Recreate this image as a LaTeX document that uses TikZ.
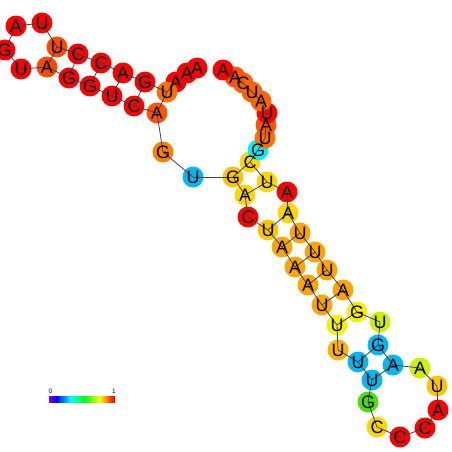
\documentclass[tikz,border=0pt]{standalone}
\usepackage{fontspec}
\setmainfont{Liberation Sans}
\definecolor{cR}{HTML}{FF0000}
\definecolor{cOfour}{HTML}{FF4800}
\definecolor{cOfive}{HTML}{FF5500}
\definecolor{cOsix}{HTML}{FF6400}
\definecolor{cOseven}{HTML}{FF7000}
\definecolor{cOeight}{HTML}{FF8000}
\definecolor{cOr}{HTML}{FFA500}
\definecolor{cOb}{HTML}{FFB400}
\definecolor{cYO}{HTML}{FFC400}
\definecolor{cY}{HTML}{FFD700}
\definecolor{cYe}{HTML}{F4F000}
\definecolor{cYG}{HTML}{CCF000}
\definecolor{cGr}{HTML}{50E000}
\definecolor{cSky}{HTML}{00B8F4}
\definecolor{cCy}{HTML}{00F0FF}
\tikzset{
  base/.style={circle,minimum size=21pt,inner sep=0pt,draw=none},
  bb/.style={draw=black!75,line width=0.8pt},
  lab/.style={inner sep=0pt,font=\fontsize{18}{18}\selectfont,text=black},
  tick/.style={inner sep=0pt,font=\fontsize{6.5}{6.5}\selectfont,text=black}
}
\begin{document}
\begin{tikzpicture}[x=1pt,y=-1pt]
\useasboundingbox (0,0) rectangle (452,452);
\foreach \i/\x/\y/\c in {
1/197/68/cR, 2/187/73/cR, 3/176/82/cR, 4/167/92/cOseven, 5/145/82/cR,
6/123/73/cR, 7/101/63/cR, 8/78/54/cR, 9/57/47/cOfour, 10/42/23/cR,
11/16/26/cR, 12/5/50/cR, 13/21/69/cR, 14/47/67/cOfour, 15/69/78/cR,
16/90/86/cR, 17/112/96/cR, 18/134/106/cR, 19/157/113/cOfive, 20/163/152/cOeight,
21/193/177/cSky, 22/233/177/cYO, 23/245/195/cY, 24/248/217/cR, 25/268/230/cYO,
26/282/247/cOr, 27/295/267/cOr, 28/308/285/cOr, 29/322/305/cOr, 30/337/325/cYe,
31/338/350/cOb, 32/358/362/cSky, 33/372/380/cSky, 34/368/402/cGr, 35/377/427/cY,
36/400/437/cR, 37/425/428/cR, 38/438/410/cR, 39/437/386/cYO, 40/420/368/cYG,
41/393/365/cSky, 42/378/345/cSky, 43/380/322/cYG, 44/357/312/cYe, 45/343/290/cOr,
46/327/270/cOr, 47/315/252/cOr, 48/300/233/cOr, 49/288/213/cY, 50/287/192/cR,
51/267/182/cY, 52/250/162/cY, 53/258/150/cCy, 54/265/138/cOseven, 55/266/125/cOfive,
56/267/113/cR, 57/261/101/cOsix, 58/252/92/cOsix, 59/243/83/cOsix, 60/235/77/cOfive,
61/223/70/cR}
  \node[base,fill=\c] (n\i) at (\x,\y) {};
% backbone
\foreach \i in {1,...,60}{
  \pgfmathtruncatemacro\j{\i+1}
  \draw[bb] (n\i.center) -- (n\j.center);
}
% base pairs
\foreach \a/\b in {4/19,5/18,6/17,7/16,8/15,9/14,22/52,23/51,25/49,26/48,27/47,28/46,29/45,30/44,32/42,33/41}
  \draw[bb] (n\a.center) -- (n\b.center);
% letters
\foreach \i/\l in {
1/A,2/A,3/A,4/U,5/G,6/A,7/C,8/C,9/U,10/U,
11/A,12/G,13/U,14/A,15/G,16/G,17/U,18/C,19/A,20/G,
21/U,22/G,23/A,24/C,25/U,26/A,27/A,28/A,29/U,30/U,
31/U,32/U,33/U,34/G,35/C,36/C,37/C,38/A,39/U,40/A,
41/A,42/G,43/U,44/G,45/A,46/U,47/U,48/U,49/A,50/A,
51/U,52/C,53/G,54/U,55/A,56/U,57/A,58/U,59/C,60/A,61/A}
  \node[lab] (t\i) at (n\i) {\l};
% colour bar
\foreach \k in {0,...,65}{
  \pgfmathsetmacro\h{270*(1-\k/65)}
  \definecolor{barc}{Hsb}{\h,1,1}
  \fill[barc] (49+\k,396) rectangle (50.3+\k,403);
}
\node[tick] (lo) at (50.5,391.5) {0};
\node[tick] (hi) at (114,391.5) {1};
\end{tikzpicture}
\end{document}
